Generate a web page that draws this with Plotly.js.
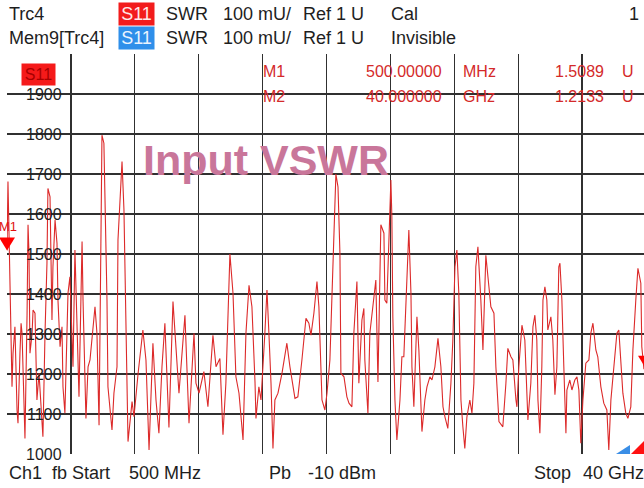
<!DOCTYPE html>
<html>
<head>
<meta charset="utf-8">
<script src="https://cdn.plot.ly/plotly-3.0.1.min.js"></script>
<style>html,body{margin:0;padding:0;background:#fff;}#chart{width:644px;height:488px;}</style>
</head>
<body>
<div id="chart"></div>
<script>
// ---- data (frequency in GHz, SWR in mU) ----
const freqGHz = [
  0.50,0.56,0.62,0.69,0.81,0.87,0.99,1.12,1.18,1.30,1.37,1.43,1.49,1.61,1.74,1.80,1.86,1.92,2.05,2.11,
  2.23,2.35,2.48,2.66,2.72,2.85,2.97,3.03,3.16,3.28,3.34,3.47,3.59,3.65,3.78,3.90,3.96,4.08,4.27,4.39,
  4.52,4.58,4.70,4.83,4.95,5.14,5.20,5.38,5.51,5.63,5.94,6.06,6.19,6.31,6.37,6.49,6.56,6.68,6.74,6.99,
  7.11,7.30,7.36,7.55,7.61,7.73,7.85,7.98,
  8.23,8.35,8.60,8.90,9.09,9.28,9.52,9.71,9.89,10.08,10.26,10.51,10.76,10.94,11.13,11.50,11.75,12.06,12.18,12.37,
  12.67,12.92,13.23,13.42,13.66,13.85,14.03,14.28,14.47,14.65,14.84,15.09,15.27,15.46,15.64,
  15.83,15.89,16.07,16.20,16.44,16.57,16.69,16.82,16.94,17.06,17.25,17.50,17.80,17.99,18.30,18.48,18.73,18.98,19.16,19.29,
  19.47,19.66,19.78,19.97,20.15,20.28,20.46,20.71,20.83,20.96,21.08,21.14,21.33,21.51,21.64,21.82,21.94,22.13,22.25,22.44,
  22.56,22.62,22.81,22.93,23.18,23.30,23.43,
  23.61,23.80,23.86,23.98,24.11,24.23,24.29,24.35,24.48,24.60,24.79,24.91,25.03,25.16,25.34,25.47,25.53,25.65,25.78,25.84,
  25.96,26.09,26.15,26.33,26.46,26.64,26.77,26.95,27.14,27.32,27.45,27.57,27.75,27.94,28.06,28.19,28.31,28.43,28.56,28.68,
  28.80,28.93,29.11,29.24,29.36,29.48,29.61,29.79,29.92,30.04,30.10,30.29,30.41,30.60,30.72,30.91,31.03,31.15,31.34,31.46,
  31.65,31.77,31.96,32.02,32.14,32.33,32.51,32.64,32.70,32.88,33.01,33.13,33.25,33.32,33.44,33.56,33.63,33.75,33.87,33.93,
  34.12,34.24,34.37,34.49,34.61,34.68,34.80,34.92,35.05,35.11,35.29,35.42,35.60,35.73,35.85,35.97,36.10,36.28,36.47,36.59,
  36.72,36.90,37.02,37.21,37.39,37.58,37.70,37.83,38.01,38.20,38.32,38.45,38.57,38.75,38.88,39.06,39.19,39.37,39.50,39.68,
  39.74,39.87,40.00
];
const swrMilli = [
  1509,1681,1560,1385,1168,1250,1318,1110,1077,1250,1327,1302,1200,1039,1350,1573,1500,1252,1300,1360,
  1352,1135,1202,1085,1043,1302,1477,1664,1643,1335,1468,1585,1527,1385,1268,1318,1168,1102,1402,1443,
  1318,1218,1510,1302,1143,1531,1385,1089,1218,1235,1368,1302,1072,1552,1797,1777,1635,1385,1168,1060,
  1152,1218,1535,1677,1731,1610,1302,1031,
  1131,1093,1200,1310,1235,1010,1277,1135,1052,1218,1327,1066,1381,1268,1152,1347,1077,1302,1177,1152,
  1206,1118,1297,1218,1239,1048,1177,1500,1402,1193,1152,1035,1302,1422,1368,
  1180,1089,1168,1135,1302,1410,1302,1177,1014,1135,1152,1202,1277,1218,1139,1143,1235,1339,1327,1297,
  1352,1431,1368,1135,1110,1152,1235,1568,1700,1668,1502,1202,1193,1143,1127,1118,1302,1431,1177,1335,
  1364,1235,1102,1302,1402,1435,1180,
  1573,1552,1385,1377,1552,1685,1593,1343,1135,1035,1135,1243,1243,1385,1560,1402,1218,1118,1302,1343,
  1260,1135,1056,1135,1168,1193,1185,1218,1289,1218,1118,1093,1064,1177,1285,1468,1510,1402,1135,1068,
  1014,1093,1135,1102,1177,1468,1518,1385,1260,1418,1497,1418,1368,1352,1218,1081,1073,1068,1177,1264,
  1243,1235,1135,1118,1218,1322,1285,1135,1085,1177,1318,1347,1285,1135,1052,1218,1385,1418,1385,1310,
  1343,1285,1148,1218,1468,1477,1385,1218,1052,1160,1185,1160,1185,1193,1160,1027,1135,1227,1235,1302,
  1327,1260,1243,1168,1127,1110,1010,1135,1218,1302,1310,1218,1152,1102,1089,1118,1260,1385,1464,1427,
  1268,1213,1213
];
const yTickValues = [1000,1100,1200,1300,1400,1500,1600,1700,1800,1900];
const yTickLabels = ["1000","1100","1200","1300","1400","1500","1600","1700","1800","1900"];
const markerNames = ["M1","M2"];
const markerFreqGHz = [0.5, 40];
const markerFreqText = ["500.00000","40.000000"];
const markerFreqUnit = ["MHz","GHz"];
const markerValueText = ["1.5089","1.2133"];
const markerValueMilli = [1508.9, 1213.3];

// ---- layout helpers (pixel -> paper) ----
const L = 7, T = 54, PW = 637, PH = 400;
const px = p => (p - L) / PW;
const py = p => (T + PH - p) / PH;
const FONT = "Liberation Sans, Arial, sans-serif";
const TXT = "#1e1e1e";
const MRED = "#d42a2a";

const annotations = [];
function txt(text, xp, yp, opts) {
  opts = opts || {};
  annotations.push(Object.assign({
    text: text, xref: "paper", yref: "paper", x: px(xp), y: py(yp),
    xanchor: "left", yanchor: "middle", showarrow: false,
    font: {family: FONT, size: 18, color: TXT}
  }, opts));
}

// header
txt("Trc4", 7, 14);
txt("S11", 118, 14, {bgcolor: "#f21c1c", width: 35, height: 22, borderpad: 0, xanchor: "left", align: "center", font: {family: FONT, size: 18, color: "#ffe8e8"}});
txt("SWR", 164, 14);
txt("100 mU/", 221, 14);
txt("Ref 1 U", 301, 14);
txt("Cal", 389, 14);
txt("1", 627, 14);
txt("Mem9[Trc4]", 7, 38);
txt("S11", 118, 38, {bgcolor: "#2f8fea", width: 35, height: 22, borderpad: 0, xanchor: "left", align: "center", font: {family: FONT, size: 18, color: "#eaf4ff"}});
txt("SWR", 164, 38);
txt("100 mU/", 221, 38);
txt("Ref 1 U", 301, 38);
txt("Invisible", 389, 38);

// footer
txt("Ch1", 7, 473);
txt("fb", 50, 473);
txt("Start", 70, 473);
txt("500 MHz", 127, 473);
txt("Pb", 267, 473);
txt("-10 dBm", 306, 473);
txt("Stop", 532, 473);
txt("40 GHz", 581, 473);

// trace label box
txt("S11", 21, 74.5, {bgcolor: "#f51a1a", width: 33, height: 21, borderpad: 0, align: "center", font: {family: FONT, size: 16, color: "#a80000"}});

// title
txt("<b>Input VSWR</b>", 141, 160, {font: {family: FONT, size: 43, color: "#c9769a"}});

// marker table
const rowsY = [71, 96];
markerNames.forEach((m, i) => {
  const f = {family: FONT, size: 16, color: MRED};
  txt(m, 261, rowsY[i], {font: f});
  txt(markerFreqText[i], 444, rowsY[i], {xanchor: "right", font: f});
  txt(markerFreqUnit[i], 461, rowsY[i], {font: f});
  txt(markerValueText[i], 606, rowsY[i], {xanchor: "right", font: f});
  txt("U", 620, rowsY[i], {font: f});
});
txt("M1", 8, 226, {xanchor: "center", font: {family: FONT, size: 13, color: "#e01010"}});

// y tick labels inside plot
yTickValues.forEach((v, i) => {
  annotations.push({text: yTickLabels[i], xref: "paper", yref: "y", x: px(64), y: v,
    xanchor: "right", yanchor: "middle", showarrow: false,
    font: {family: FONT, size: 16, color: TXT}});
});

const shapes = [];
// gaps in grid lines behind the tick labels
yTickValues.forEach(v => {
  shapes.push({type: "rect", xref: "paper", yref: "y", x0: px(26), x1: px(66), y0: v - 4, y1: v + 4,
    fillcolor: "#ffffff", line: {width: 0}, layer: "between"});
});
// marker triangles (M1 at the left frame edge, M2 at the right edge)
shapes.push({type: "path", xref: "paper", yref: "y", xsizemode: "pixel", ysizemode: "pixel",
  xanchor: 0, yanchor: markerValueMilli[0], path: "M-8,13 L8,13 L0,0 Z",
  fillcolor: "#ff0000", line: {width: 0}});
shapes.push({type: "path", xref: "x", yref: "y", xsizemode: "pixel", ysizemode: "pixel",
  xanchor: markerFreqGHz[1], yanchor: markerValueMilli[1], path: "M-8,13 L8,13 L0,0 Z",
  fillcolor: "#ff0000", line: {width: 0}});
// reference level indicators at right edge
shapes.push({type: "path", xref: "x", yref: "y", xsizemode: "pixel", ysizemode: "pixel",
  xanchor: 40, yanchor: 1000, path: "M-30,0 L-16,0 L-16,9 Z", fillcolor: "#3a8ee6", line: {width: 0}});
shapes.push({type: "path", xref: "x", yref: "y", xsizemode: "pixel", ysizemode: "pixel",
  xanchor: 40, yanchor: 1000, path: "M-15,0 L0,0 L0,15 Z", fillcolor: "#ff1010", line: {width: 0}});

const data = [{
  type: "scatter", mode: "lines", x: freqGHz, y: swrMilli,
  line: {color: "#dc2a2a", width: 1.1}, hoverinfo: "skip"
}];

const layout = {
  width: 644, height: 488,
  margin: {l: L, r: 0, t: T, b: 488 - T - PH, pad: 0},
  paper_bgcolor: "#ffffff", plot_bgcolor: "#ffffff",
  showlegend: false,
  xaxis: {range: [0.5, 39.876], tick0: 0.5, dtick: 3.95, showgrid: true, gridcolor: "#303030", gridwidth: 1.3,
    showticklabels: false, ticks: "", zeroline: false, showline: false, fixedrange: true},
  yaxis: {range: [1000, 2000], tick0: 1000, dtick: 100, showgrid: true, gridcolor: "#303030", gridwidth: 1.3,
    showticklabels: false, ticks: "", zeroline: false, showline: false, fixedrange: true},
  annotations: annotations,
  shapes: shapes
};

Plotly.newPlot("chart", data, layout, {staticPlot: true, displayModeBar: false});
</script>
</body>
</html>
